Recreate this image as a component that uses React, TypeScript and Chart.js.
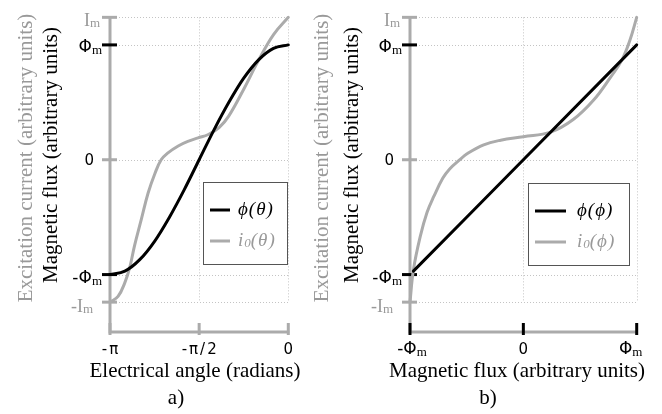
import React, { useEffect, useRef } from "react";
import { Chart, registerables } from "chart.js";

Chart.register(...registerables);

// ---------- data ----------
const PHI_M = 1;
const I_M = 1.24;
const Y_MIN = -1.5;
const Y_MAX = 1.243;

// panel a) : electrical angle (radians)
const angleValues = [-3.1416, -2.8798, -2.618, -2.3562, -2.0944, -1.8326, -1.5708, -1.309, -1.0472, -0.7854, -0.5236, -0.2618, 0];
const fluxOfAngle = [-1, -0.97, -0.87, -0.71, -0.5, -0.26, 0, 0.26, 0.5, 0.71, 0.87, 0.97, 1];
const currentAngleValues = [-3.1416, -3.0, -2.88, -2.79, -2.71, -2.59, -2.47, -2.35, -2.24, -2.12, -1.94, -1.77, -1.59, -1.41, -1.22, -1.05, -0.79, -0.52, -0.26, 0];
const currentOfAngle = [-1.24, -1.19, -1.07, -0.93, -0.75, -0.52, -0.29, -0.12, 0, 0.06, 0.12, 0.16, 0.19, 0.22, 0.28, 0.38, 0.61, 0.87, 1.09, 1.24];

// panel b) : magnetic flux (arbitrary units)
const fluxLineX = [-0.97, 0, 1];
const fluxLineY = [-0.97, 0, 1];
const fluxValues = [-1, -0.97, -0.91, -0.85, -0.79, -0.71, -0.65, -0.56, -0.5, -0.35, -0.2, 0, 0.24, 0.44, 0.62, 0.77, 0.87, 0.94, 1];
const currentOfFlux = [-1.24, -0.96, -0.67, -0.46, -0.32, -0.16, -0.08, 0, 0.05, 0.13, 0.17, 0.2, 0.24, 0.35, 0.52, 0.72, 0.87, 1.04, 1.24];

// tick values / labels
const yTickValues = [I_M, PHI_M, 0, -PHI_M, -I_M];
const yTickLabels = [["I", "m"], ["Φ", "m"], ["0", ""], ["-Φ", "m"], ["-I", "m"]];
const angleTickValues = [-3.1416, -1.5708, 0];
const angleTickLabels = [["-π", ""], ["-π/2", ""], ["0", ""]];
const fluxTickValues = [-1, 0, 1];
const fluxTickLabels = [["-Φ", "m"], ["0", ""], ["Φ", "m"]];

// ---------- styles ----------
const BLACK = "#000000";
const GREY = "#ababab";
const GREY_TEXT = "#999999";
const GRID = "#c4c4c4";
const SERIF = "'Liberation Serif', 'Times New Roman', serif";
const SANS = "'DejaVu Sans', sans-serif";

type Part = { text: string; font: string; dy?: number; spacing?: number };

type Spec = {
  width: number;
  padRight: number;
  xMin: number;
  xMax: number;
  xTicks: number[];
  xLabels: string[][];
  xLabelDx: number[];
  xTickColor: string;
  xGrid: number[];
  xTitle: string;
  xTitleX: number;
  letter: string;
  letterX: number;
  greyTitleX: number;
  blackTitleX: number;
  legend: { x: number; y: number; w: number; h: number; lineX: number; lineW: number; textX: number; arg: string };
  datasets: any[];
};

function drawParts(
  ctx: CanvasRenderingContext2D,
  parts: Part[],
  x: number,
  y: number,
  align: "left" | "right" | "center",
  color: string
) {
  ctx.save();
  ctx.fillStyle = color;
  ctx.textBaseline = "alphabetic";
  ctx.textAlign = "left";
  const widths = parts.map((p) => {
    (ctx as any).letterSpacing = (p.spacing || 0) + "px";
    ctx.font = p.font;
    return ctx.measureText(p.text).width;
  });
  const last = parts[parts.length - 1];
  const total = widths.reduce((a, b) => a + b, 0) - (last.spacing || 0);
  let cx = align === "right" ? x - total : align === "center" ? x - total / 2 : x;
  parts.forEach((p, i) => {
    (ctx as any).letterSpacing = (p.spacing || 0) + "px";
    ctx.font = p.font;
    ctx.fillText(p.text, cx, y + (p.dy || 0));
    cx += widths[i];
  });
  ctx.restore();
}

function makePlugin(spec: Spec) {
  return {
    id: "decor",
    beforeDatasetsDraw(chart: any) {
      const ctx: CanvasRenderingContext2D = chart.ctx;
      const xs = chart.scales.x;
      const ys = chart.scales.y;
      const left = xs.getPixelForValue(spec.xMin);
      const right = xs.getPixelForValue(spec.xMax);
      const bottom = ys.getPixelForValue(Y_MIN);
      const top = ys.getPixelForValue(I_M);
      ctx.save();
      // dotted grid
      ctx.strokeStyle = GRID;
      ctx.lineWidth = 1;
      ctx.setLineDash([1, 2]);
      yTickValues.forEach((v) => {
        const y = Math.round(ys.getPixelForValue(v)) + 0.5;
        ctx.beginPath();
        ctx.moveTo(left, y);
        ctx.lineTo(right, y);
        ctx.stroke();
      });
      spec.xGrid.forEach((v) => {
        const x = Math.round(xs.getPixelForValue(v)) + 0.5;
        ctx.beginPath();
        ctx.moveTo(x, top);
        ctx.lineTo(x, ys.getPixelForValue(-I_M));
        ctx.stroke();
      });
      ctx.setLineDash([]);
      // axes
      ctx.strokeStyle = GREY;
      ctx.lineWidth = 3;
      ctx.beginPath();
      ctx.moveTo(left, top - 1);
      ctx.lineTo(left, bottom);
      ctx.lineTo(right + 1, bottom);
      ctx.stroke();
      // y ticks
      yTickValues.forEach((v, i) => {
        const y = ys.getPixelForValue(v);
        const isFlux = yTickLabels[i][0].indexOf("Φ") >= 0;
        ctx.strokeStyle = isFlux ? BLACK : GREY;
        ctx.lineWidth = 3;
        ctx.beginPath();
        ctx.moveTo(left - 8, y);
        ctx.lineTo(left + 7, y);
        ctx.stroke();
      });
      // x ticks
      spec.xTicks.forEach((v) => {
        const x = xs.getPixelForValue(v);
        ctx.strokeStyle = spec.xTickColor;
        ctx.lineWidth = 3;
        ctx.beginPath();
        ctx.moveTo(x, bottom - 9);
        ctx.lineTo(x, bottom + 3);
        ctx.stroke();
      });
      ctx.restore();
    },
    afterDatasetsDraw(chart: any) {
      const ctx: CanvasRenderingContext2D = chart.ctx;
      const xs = chart.scales.x;
      const ys = chart.scales.y;
      const left = xs.getPixelForValue(spec.xMin);
      ctx.save();
      // y tick labels
      const yOffsets = [10, 8, 16, 8, 17];
      const yBase = [9, 7, 5, 8, 10];
      yTickValues.forEach((v, i) => {
        const y = ys.getPixelForValue(v) + yBase[i];
        const [main, sub] = yTickLabels[i];
        const x = left - yOffsets[i];
        if (main.indexOf("I") >= 0) {
          drawParts(ctx, [{ text: main, font: `18px ${SERIF}` }, { text: sub, font: `13px ${SERIF}`, dy: 1 }], x, y, "right", GREY_TEXT);
        } else if (main.indexOf("Φ") >= 0) {
          drawParts(ctx, [{ text: main, font: `17px ${SANS}` }, { text: sub, font: `13px ${SERIF}`, dy: 2 }], x, y, "right", BLACK);
        } else {
          drawParts(ctx, [{ text: main, font: `15px ${SANS}` }], x, y, "right", BLACK);
        }
      });
      // x tick labels
      spec.xTicks.forEach((v, i) => {
        const x = xs.getPixelForValue(v) + spec.xLabelDx[i];
        const [main, sub] = spec.xLabels[i];
        const parts: Part[] = main.indexOf("Φ") >= 0
          ? [{ text: main, font: `17px ${SANS}` }, { text: sub, font: `13px ${SERIF}`, dy: 2 }]
          : [{ text: main, font: `15px ${SANS}`, spacing: 2 }];
        drawParts(ctx, parts, x, 354, "center", BLACK);
      });
      // axis titles
      ctx.fillStyle = BLACK;
      ctx.font = `21px ${SERIF}`;
      ctx.textAlign = "center";
      ctx.textBaseline = "alphabetic";
      ctx.fillText(spec.xTitle, spec.xTitleX, 377);
      ctx.fillText(spec.letter, spec.letterX, 404);
      ctx.save();
      ctx.translate(spec.greyTitleX, 158);
      ctx.rotate(-Math.PI / 2);
      ctx.textBaseline = "middle";
      ctx.fillStyle = GREY_TEXT;
      ctx.fillText("Excitation current (arbitrary units)", 0, 0);
      ctx.restore();
      ctx.save();
      ctx.translate(spec.blackTitleX, 155);
      ctx.rotate(-Math.PI / 2);
      ctx.textBaseline = "middle";
      ctx.fillStyle = BLACK;
      ctx.font = `21px ${SERIF}`;
      ctx.textAlign = "center";
      ctx.fillText("Magnetic flux (arbitrary units)", 0, 0);
      ctx.restore();
      // legend
      const lg = spec.legend;
      ctx.fillStyle = "#ffffff";
      ctx.fillRect(lg.x, lg.y, lg.w, lg.h);
      ctx.strokeStyle = "#555555";
      ctx.lineWidth = 1;
      ctx.strokeRect(lg.x + 0.5, lg.y + 0.5, lg.w, lg.h);
      const it = `italic 19px ${SERIF}`;
      const rows: { y: number; color: string; text: string; parts: Part[] }[] = [
        { y: lg.y + 28, color: BLACK, text: BLACK, parts: [{ text: "ϕ(" + lg.arg + ")", font: it, spacing: 1 }] },
        {
          y: lg.y + 59,
          color: GREY,
          text: GREY_TEXT,
          parts: [
            { text: "i", font: it, spacing: 1 },
            { text: "0", font: `italic 13px ${SERIF}`, dy: 1 },
            { text: "(" + lg.arg + ")", font: it, spacing: 1 },
          ],
        },
      ];
      rows.forEach((r) => {
        ctx.strokeStyle = r.color;
        ctx.lineWidth = 3;
        ctx.beginPath();
        ctx.moveTo(lg.x + lg.lineX, r.y);
        ctx.lineTo(lg.x + lg.lineX + lg.lineW, r.y);
        ctx.stroke();
        drawParts(ctx, r.parts, lg.x + lg.textX, r.y + 5, "left", r.text);
      });
      ctx.restore();
    },
  };
}

function buildLine(xv: number[], yv: number[], color: string, smooth: boolean) {
  return {
    data: xv.map((x, i) => ({ x, y: yv[i] })),
    borderColor: color,
    backgroundColor: color,
    borderWidth: 3,
    pointRadius: 0,
    fill: false,
    cubicInterpolationMode: smooth ? "default" : "monotone",
    tension: smooth ? 0.4 : 0,
    borderCapStyle: "round",
    clip: 6,
  };
}

const specA: Spec = {
  width: 300,
  padRight: 300 - 288.3,
  xMin: -3.1416,
  xMax: 0,
  xTicks: angleTickValues,
  xLabels: angleTickLabels,
  xLabelDx: [0, 0, 0],
  xTickColor: GREY,
  xGrid: [-1.5708, 0],
  xTitle: "Electrical angle (radians)",
  xTitleX: 195,
  letter: "a)",
  letterX: 176,
  greyTitleX: 26,
  blackTitleX: 51,
  legend: { x: 203, y: 182, w: 84, h: 82, lineX: 7, lineW: 20, textX: 35, arg: "θ" },
  datasets: [buildLine(angleValues, fluxOfAngle, BLACK, false), buildLine(currentAngleValues, currentOfAngle, GREY, true)],
};

const specB: Spec = {
  width: 362,
  padRight: 362 - 336.7,
  xMin: -1,
  xMax: 1,
  xTicks: fluxTickValues,
  xLabels: fluxTickLabels,
  xLabelDx: [2, 0, -6],
  xTickColor: BLACK,
  xGrid: [0, 1],
  xTitle: "Magnetic flux (arbitrary units)",
  xTitleX: 217,
  letter: "b)",
  letterX: 188,
  greyTitleX: 22,
  blackTitleX: 52,
  legend: { x: 228, y: 183, w: 101, h: 82, lineX: 7, lineW: 31, textX: 49, arg: "ϕ" },
  datasets: [buildLine(fluxLineX, fluxLineY, BLACK, false), buildLine(fluxValues, currentOfFlux, GREY, true)],
};

function Panel({ spec, left }: { spec: Spec; left: number }) {
  const ref = useRef<HTMLCanvasElement | null>(null);
  useEffect(() => {
    if (!ref.current) return;
    const chart = new Chart(ref.current, {
      type: "line",
      data: { datasets: spec.datasets },
      options: {
        responsive: false,
        animation: false,
        devicePixelRatio: 1,
        layout: { padding: { left: 110, right: spec.padRight, top: 17, bottom: 82 } },
        plugins: { legend: { display: false }, tooltip: { enabled: false } },
        scales: {
          x: { type: "linear", min: spec.xMin, max: spec.xMax, display: false },
          y: { type: "linear", min: Y_MIN, max: Y_MAX, display: false },
        },
      } as any,
      plugins: [makePlugin(spec)],
    });
    return () => chart.destroy();
  }, [spec]);
  return (
    <canvas
      ref={ref}
      width={spec.width}
      height={414}
      style={{ position: "absolute", left, top: 0, width: spec.width, height: 414 }}
    />
  );
}

export default function App() {
  return (
    <div style={{ position: "fixed", left: 0, top: 0, width: 662, height: 414, background: "#fff", overflow: "hidden" }}>
      <Panel spec={specA} left={0} />
      <Panel spec={specB} left={300} />
    </div>
  );
}
